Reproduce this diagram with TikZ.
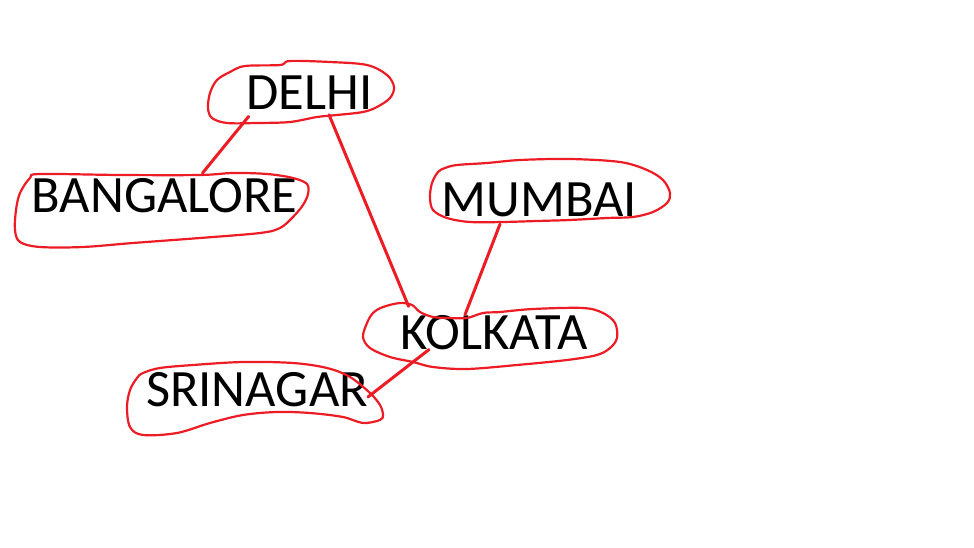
\documentclass[tikz,border=0pt]{standalone}
\usepackage{fontspec}
\setmainfont{Carlito}
\definecolor{paintred}{RGB}{237,28,36}
\tikzset{
  city/.style={anchor=base, inner sep=0pt, text=black, font=\fontsize{52.5}{60}\selectfont},
  ring/.style={paintred, line width=2.2pt, line join=round},
  link/.style={paintred, line width=3pt, line cap=round},
}

\begin{document}
\begin{tikzpicture}[x=1pt,y=-1pt]
\useasboundingbox (0,0) rectangle (974,548);

% city names
\node[city] (delhi)     at (309.5,110) {DELHI};
\node[city] (bangalore) at (164.5,212) {BANGALORE};
\node[city] (mumbai)    at (539.5,217) {MUMBAI};
\node[city] (kolkata)   at (494,349)   {KOLKATA};
\node[city] (srinagar)  at (257,406)   {SRINAGAR};

% hand drawn rings
\draw[ring] plot[smooth cycle, tension=0.55] coordinates {
  (245,66) (280,65) (290,61) (330,62) (367,65) (387,75) (394,87) (390,98)
  (377,107) (363,112) (337,115) (317,117) (290,122) (257,123) (227,123)
  (212,118) (208,108) (210,93) (217,80) (230,72)};
\draw[ring] plot[smooth cycle, tension=0.55] coordinates {
  (40,174) (120,175) (200,175) (233,173) (267,174) (293,178) (307,184)
  (308,194) (303,205) (293,217) (280,228) (260,233) (200,238) (133,243)
  (83,247) (40,247) (20,242) (15,230) (16,210) (20,193) (30,178)};
\draw[ring] plot[smooth cycle, tension=0.55] coordinates {
  (445,168) (457,165) (487,163) (520,160) (570,159) (620,162) (647,170)
  (663,180) (670,193) (667,203) (653,212) (633,217) (607,218) (570,220)
  (537,221) (503,222) (470,222) (447,218) (433,210) (430,197) (432,183) (438,172)};
\draw[ring] plot[smooth cycle, tension=0.55] coordinates {
  (383,307) (400,303) (412,305) (420,312) (433,317) (450,318) (467,318)
  (483,313) (500,312) (533,309) (583,308) (603,313) (615,323) (617,338)
  (610,348) (597,355) (567,360) (517,365) (467,369) (433,367) (413,362)
  (390,357) (370,348) (363,337) (367,323) (373,313)};
\draw[ring] plot[smooth cycle, tension=0.55] coordinates {
  (143,373) (160,368) (193,365) (243,362) (293,363) (327,368) (350,377)
  (370,393) (380,405) (383,415) (380,420) (363,423) (343,417) (310,413)
  (277,412) (243,415) (210,423) (177,433) (143,435) (130,427) (127,407)
  (130,390) (137,378)};

% connections
\draw[link, shorten <=8pt, shorten >=6pt] (delhi.197) -- (bangalore.27);
\draw[link, shorten <=5pt, shorten >=9pt] (delhi.316) -- (kolkata.168);
\draw[link, shorten <=7pt] (mumbai.205) -- (kolkata.149);
\draw[link] (kolkata.195) -- (srinagar.356);

\end{tikzpicture}
\end{document}
